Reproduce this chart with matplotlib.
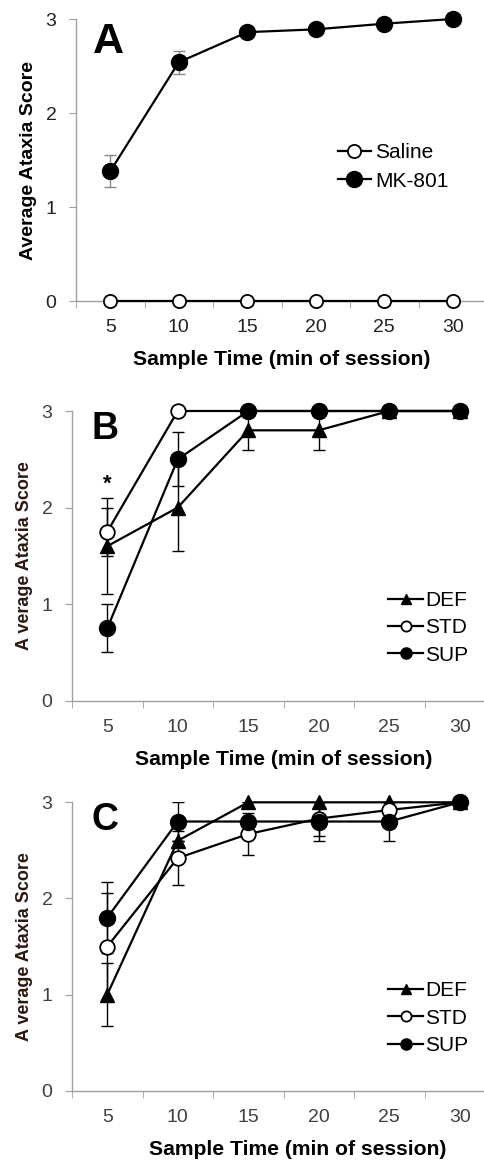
import matplotlib
matplotlib.use('Agg')
import matplotlib.pyplot as plt

plt.rcParams['font.family'] = ['Liberation Sans', 'DejaVu Sans']

# Sample times (min of session)
times = [5, 10, 15, 20, 25, 30]

# Panel A
saline = [0, 0, 0, 0, 0, 0]
mk801 = [1.38, 2.54, 2.86, 2.89, 2.95, 3.0]
mk801_err = [0.17, 0.12, 0, 0, 0, 0]

# Panel B
def_b = [1.6, 2.0, 2.8, 2.8, 3.0, 3.0]
def_b_err = [0.5, 0.45, 0.2, 0.2, 0, 0]
std_b = [1.75, 3.0, 3.0, 3.0, 3.0, 3.0]
std_b_err = [0.25, 0, 0, 0, 0, 0]
sup_b = [0.75, 2.5, 3.0, 3.0, 3.0, 3.0]
sup_b_err = [0.25, 0.28, 0, 0, 0, 0]

# Panel C
def_c = [1.0, 2.6, 3.0, 3.0, 3.0, 3.0]
def_c_err = [0.33, 0, 0, 0, 0, 0]
std_c = [1.5, 2.42, 2.67, 2.83, 2.92, 3.0]
std_c_err = [0.56, 0.28, 0.22, 0.18, 0, 0]
sup_c = [1.8, 2.8, 2.8, 2.8, 2.8, 3.0]
sup_c_err = [0.37, 0.2, 0, 0.2, 0.2, 0]

W, H = 484, 1163
fig = plt.figure(figsize=(W / 100, H / 100), dpi=100)


def make_axes(left, top, bottom, width):
    # pixel positions -> figure fractions
    return fig.add_axes([left / W, 1 - bottom / H, width / W, (bottom - top) / H])


def style_axes(ax, tick_color, ylabel, ylabel_size, ylabel_color):
    ax.set_xlim(2.5, 32.5)
    ax.set_ylim(0, 3)
    for s in ['top', 'right']:
        ax.spines[s].set_visible(False)
    for s in ['left', 'bottom']:
        ax.spines[s].set_color('#a0a0a0')
        ax.spines[s].set_linewidth(1.0)
    ax.set_xticks(times)
    ax.set_xticks([2.5, 7.5, 12.5, 17.5, 22.5, 27.5, 32.5], minor=True)
    ax.tick_params(axis='x', which='major', length=0, pad=13,
                   labelsize=14, labelcolor=tick_color)
    ax.tick_params(axis='x', which='minor', length=5, color='#a0a0a0')
    ax.set_yticks([0, 1, 2, 3])
    ax.tick_params(axis='y', length=5, color='#a0a0a0', pad=9,
                   labelsize=14, labelcolor=tick_color)
    ax.set_xlabel('Sample Time (min of session)', fontsize=15.2,
                  fontweight='bold', labelpad=10)
    ax.set_ylabel(ylabel, fontsize=ylabel_size, fontweight='bold',
                  color=ylabel_color, labelpad=6)


# ---- Panel A ----
axA = make_axes(76, 19, 301, 411)
style_axes(axA, '#222222', 'Average Ataxia Score', 14, 'black')
axA.errorbar(times, mk801, yerr=mk801_err, fmt='none', ecolor='#888888',
             elinewidth=1, capsize=4, zorder=2)
axA.plot(times, saline, '-o', color='black', lw=1.6, ms=9.5,
         mfc='white', mec='black', mew=1.3, label='Saline', zorder=3,
         clip_on=False)
axA.plot(times, mk801, '-o', color='black', lw=1.6, ms=11.5,
         mfc='black', mec='black', label='MK-801', zorder=3, clip_on=False)
axA.text(0.04, 0.99, 'A', transform=axA.transAxes, fontsize=31,
         fontweight='bold', va='top', ha='left')
axA.legend(loc='center left', bbox_to_anchor=(0.637, 0.475), frameon=False,
           fontsize=15, handlelength=1.6, handletextpad=0.2,
           labelspacing=0.45, borderpad=0, borderaxespad=0)

# ---- Panels B and C ----
panels = [
    ('B', 411, 700.7, def_b, def_b_err, std_b, std_b_err, sup_b, sup_b_err),
    ('C', 802.3, 1090.7, def_c, def_c_err, std_c, std_c_err, sup_c, sup_c_err),
]
for letter, top, bottom, d, de, s, se, u, ue in panels:
    ax = make_axes(72, top, bottom, 423)
    style_axes(ax, '#404040', 'A verage Ataxia Score', 13, '#2a1a12')
    for vals, errs in [(d, de), (s, se), (u, ue)]:
        ax.errorbar(times, vals, yerr=errs, fmt='none', ecolor='black',
                    elinewidth=1, capsize=4.5, zorder=2)
    ax.plot(times, d, '-^', color='black', lw=1.6, ms=10.5, mfc='black',
            label='DEF', zorder=3, clip_on=False)
    ax.plot(times, s, '-o', color='black', lw=1.6, ms=10.5, mfc='white',
            mew=1.3, label='STD', zorder=4, clip_on=False)
    ax.plot(times, u, '-o', color='black', lw=1.6, ms=11.5, mfc='black',
            label='SUP', zorder=5, clip_on=False)
    ax.text(0.045, 1.0, letter, transform=ax.transAxes, fontsize=27,
            fontweight='bold', va='top', ha='left')
    if letter == 'B':
        ax.text(5, 2.24, '*', fontsize=16, fontweight='bold',
                ha='center', va='center')
    else:
        # the C axis title sits a little to the right in the original
        ax.xaxis.set_label_coords(0.534, -0.17)
    ax.legend(loc='center left', bbox_to_anchor=(0.747, 0.252),
              frameon=False, fontsize=15, handlelength=1.7,
              handletextpad=0.1, labelspacing=0.4, borderpad=0,
              borderaxespad=0, markerscale=0.7)

fig.savefig('out.png', dpi=100)
